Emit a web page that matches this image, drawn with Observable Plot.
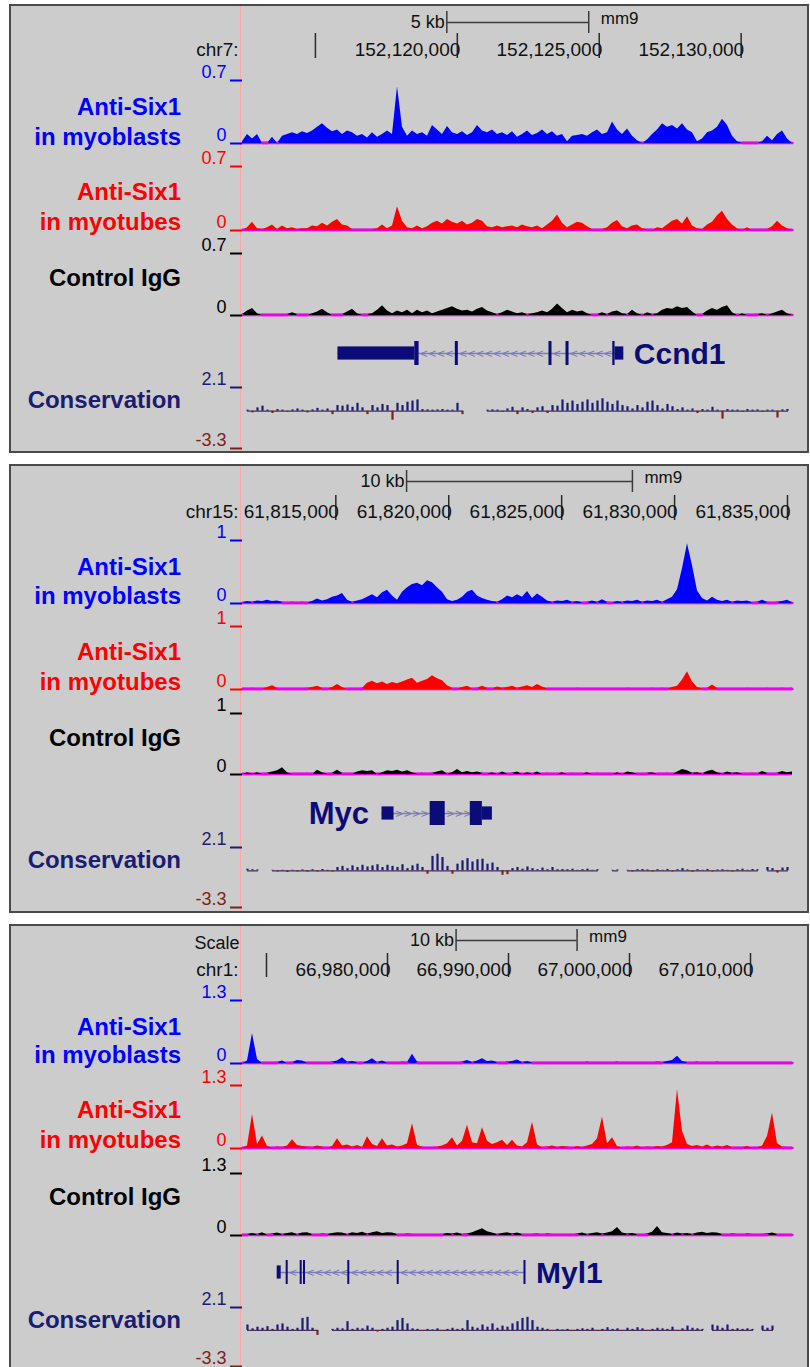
<!DOCTYPE html>
<html><head><meta charset="utf-8">
<script src="https://cdn.jsdelivr.net/npm/d3@7"></script>
<script src="https://cdn.jsdelivr.net/npm/@observablehq/plot@0.6"></script>
<style>
body{margin:0;background:#fff;}
#page{position:relative;width:810px;height:1367px;overflow:hidden;font-family:Arial,"Liberation Sans",Helvetica,sans-serif;}
.panel{position:absolute;left:9px;width:800px;box-sizing:border-box;border:2px solid #4a4a4a;background:#cccccc;}
.guide{position:absolute;left:240px;width:1px;background:#f2aaaa;}
.lab{position:absolute;left:0;width:181px;text-align:right;font-weight:bold;font-size:24px;line-height:24px;white-space:nowrap;}
</style></head><body><div id="page"></div>
<script>
// ---------------- DATA ----------------
// Panel 1 : Ccnd1
const p1Chrom = "chr7";
const p1Range = [152112431, 152131810];
const p1Ticks = [152115000, 152120000, 152125000, 152130000];
const p1TickLabels = ["", "152,120,000", "152,125,000", "152,130,000"];
const p1ScaleBar = [152119630, 152124630];
const p1ScaleLabel = "5 kb";
const p1Max = 0.7;
const p1Myoblasts = [0.02,0.1,0.05,0.1,0,0,0.07,0,0.08,0.1, 0.12,0.1,0.13,0.11,0.14,0.18,0.22,0.17,0.13,0.15, 0.1,0.14,0.12,0.08,0.1,0.06,0.12,0.07,0.1,0.14, 0.1,0.63,0.18,0.08,0.14,0.1,0.12,0.08,0.2,0.15, 0.1,0.19,0.12,0.1,0.13,0.09,0.12,0.2,0.14,0.12, 0.15,0.1,0.12,0.09,0.13,0.07,0.1,0.14,0.09,0.11, 0.15,0.1,0.13,0.08,0.1,0.02,0.08,0.09,0.1,0.08, 0.12,0.15,0.1,0.12,0.24,0.15,0.1,0.16,0.08,0.03, 0,0.04,0.1,0.15,0.22,0.18,0.2,0.16,0.22,0.15, 0.12,0.02,0.05,0.12,0.14,0.18,0.27,0.2,0.08,0.02, 0,0,0,0,0.02,0.08,0.03,0.1,0.14,0.05, 0];
const p1Myotubes = [0,0.03,0.09,0.02,0.01,0.03,0.06,0.01,0.05,0.02, 0.03,0.01,0.02,0.02,0.05,0.04,0.08,0.05,0.09,0.12, 0.06,0.05,0.01,0,0,0,0.01,0.02,0.06,0.02, 0.05,0.26,0.1,0.03,0.02,0.05,0.02,0.04,0.08,0.1, 0.07,0.12,0.09,0.07,0.1,0.06,0.08,0.12,0.1,0.04, 0.03,0.05,0.03,0.04,0.05,0.03,0.06,0.04,0.03,0.05, 0.02,0.06,0.1,0.17,0.08,0.03,0.06,0.09,0.08,0.04, 0.01,0,0.01,0.03,0.08,0.11,0.04,0.02,0.05,0.06, 0.02,0.01,0,0.03,0.02,0.06,0.1,0.12,0.07,0.15, 0.05,0.02,0.01,0.06,0.09,0.16,0.21,0.12,0.06,0.02, 0,0.03,0,0,0,0.01,0.04,0.1,0.05,0.02, 0];
const p1Control = [0.01,0.05,0.08,0.02,0,0,0,0.01,0,0.01, 0.03,0.01,0,0,0.02,0.04,0.07,0.03,0,0, 0.01,0.04,0.07,0.02,0,0.01,0.02,0.06,0.11,0.05, 0.02,0.05,0.03,0.06,0.02,0.06,0.03,0.05,0.02,0.04, 0.06,0.08,0.1,0.07,0.05,0.06,0.04,0.07,0.09,0.05, 0.03,0.01,0.03,0.06,0.04,0.02,0.03,0.01,0.02,0.03, 0.05,0.03,0.07,0.13,0.08,0.03,0.06,0.04,0.05,0.02, 0,0.01,0.03,0.01,0.04,0.05,0.02,0.01,0.06,0.02, 0,0.03,0.01,0.02,0.06,0.08,0.07,0.1,0.08,0.09, 0.04,0,0.01,0.05,0.08,0.06,0.09,0.11,0.03,0, 0.02,0,0,0.01,0.02,0,0.02,0.04,0.06,0.02, 0];
const p1Conservation = [null,0.1,-0.15,0.3,0.45,0.1,-0.2,0.15,0.1,-0.1, 0.12,0.2,0.1,-0.15,0.12,0.25,0.1,0.2,-0.3,0.5, 0.45,0.55,0.35,0.7,0.3,-0.3,0.5,0.3,0.6,0.5, -0.8,0.7,0.5,0.8,0.9,1.0,0.15,0.12,0.1,0.12, 0.15,0.1,0.1,0.7,-0.3,null,null,null,null,0.1, 0.12,0.1,-0.1,0.2,0.35,-0.3,0.3,0.15,-0.2,0.3, 0.4,-0.2,0.5,0.45,1.0,0.7,0.9,0.6,0.8,1.0, 0.7,0.9,1.1,0.8,0.6,0.9,0.5,0.4,0.2,0.5, 0.3,0.8,0.9,0.5,0.2,0.6,0.4,0.15,0.3,0.1, 0.2,-0.2,0.15,0.1,0.35,0.1,-0.7,0.15,0.1,0.1, -0.1,0.15,0.1,0.12,-0.1,0.1,0.1,-0.6,0.12,0.15, null];
const p1GeneName = "Ccnd1";
const p1Strand = "-";
const p1Exons = [[152115794,152118501,"utr"],[152118501,152118653,"cds"],[152119930,152120036,"cds"],[152123230,152123336,"cds"],[152123830,152123936,"cds"],[152125478,152125559,"cds"],[152125559,152125866,"utr"]];

// Panel 2 : Myc
const p2Chrom = "chr15";
const p2Range = [61810867, 61835222];
const p2Ticks = [61815000, 61820000, 61825000, 61830000, 61835000];
const p2TickLabels = ["61,815,000", "61,820,000", "61,825,000", "61,830,000", "61,835,000"];
const p2ScaleBar = [61818133, 61828133];
const p2ScaleLabel = "10 kb";
const p2Max = 1;
const p2Myoblasts = [0.01,0.03,0.02,0.04,0.03,0.05,0.03,0.04,0.02,0.01, 0.02,0.01,0.02,0.01,0.03,0.07,0.04,0.06,0.1,0.12, 0.16,0.05,0.02,0.04,0.06,0.1,0.14,0.09,0.17,0.21, 0.12,0.05,0.18,0.25,0.3,0.32,0.28,0.36,0.33,0.25, 0.18,0.06,0.03,0.05,0.1,0.18,0.21,0.12,0.08,0.05, 0.03,0.02,0.06,0.12,0.09,0.14,0.1,0.19,0.08,0.15, 0.1,0.04,0.02,0.04,0.03,0.05,0.02,0.03,0.01,0.02, 0.04,0.02,0.06,0.02,0.01,0.03,0.02,0.04,0.03,0.05, 0.02,0.04,0.03,0.05,0.02,0.06,0.1,0.22,0.55,0.95, 0.6,0.2,0.08,0.04,0.1,0.05,0.03,0.05,0.02,0.04, 0.03,0.04,0.01,0.02,0.05,0.02,0.01,0.02,0.03,0.05, 0.01];
const p2Myotubes = [0,0.01,0.02,0.01,0.01,0.03,0.06,0.02,0.01,0, 0.01,0,0.01,0.02,0.03,0.05,0.02,0.01,0.03,0.08, 0.03,0,0,0.01,0.02,0.1,0.13,0.09,0.12,0.08, 0.11,0.09,0.12,0.15,0.18,0.1,0.13,0.16,0.22,0.17, 0.14,0.06,0.02,0.01,0.03,0.05,0.01,0.02,0.05,0.02, 0.01,0.04,0.02,0.03,0.05,0.02,0.04,0.06,0.03,0.08, 0.04,0.01,0,0,0.01,0,0,0.02,0.01,0, 0.02,0,0.01,0,0,0.01,0,0.02,0.01,0, 0.01,0,0.02,0.01,0.02,0.01,0.03,0.05,0.15,0.28, 0.12,0.03,0.01,0.02,0.07,0.02,0,0.01,0,0.01, 0,0.02,0,0.01,0,0.02,0,0.01,0.02,0.01, 0.02];
const p2Control = [0,0.03,0.01,0.03,0,0.02,0.04,0.06,0.11,0.03, 0,0.01,0,0.02,0,0.07,0.03,0.01,0.02,0.07, 0.02,0,0.01,0.04,0.06,0.05,0.06,0,0.03,0.06, 0.05,0.07,0.04,0.06,0.03,0.01,0.02,0,0.02,0.04, 0.06,0.01,0.03,0.08,0.03,0.05,0.03,0.04,0.02,0.01, 0.03,0,0.04,0.01,0.02,0.04,0,0.03,0.01,0.04, 0,0.02,0,0.01,0.03,0,0.02,0,0.01,0.03, 0,0.02,0,0.01,0,0.03,0,0.04,0.03,0.01, 0,0.02,0.03,0,0.01,0.02,0,0.04,0.08,0.06, 0.02,0.03,0.01,0.05,0.07,0.03,0.01,0.04,0.02,0.03, 0.01,0,0.02,0.01,0.05,0.02,0,0.02,0.05,0.03, 0.04];
const p2Conservation = [null,0.15,0.1,0.08,null,null,0.05,-0.1,0.05,-0.15, 0.05,-0.1,0.08,-0.12,0.1,-0.1,0.12,0.05,-0.1,0.3, 0.4,0.2,0.45,0.3,0.5,0.35,0.45,0.55,0.3,0.5, 0.4,0.3,0.55,0.2,0.45,0.6,0.3,-0.3,1.3,1.5, 1.2,0.4,-0.3,0.6,0.9,1.1,0.8,1.0,1.05,0.6, 0.7,0.3,-0.4,-0.35,0.2,0.3,0.15,0.35,0.2,0.1, 0.25,0.1,0.3,0.1,0.12,0.1,0.15,0.05,0.1,0.15, 0.05,0.1,null,null,0.05,0.08,null,0.05,-0.1,0.1, 0.12,0.08,-0.1,0.1,0.05,0.12,-0.1,0.1,0.2,0.08, -0.12,0.1,0.05,0.12,-0.1,0.08,0.1,0.05,-0.1,0.1, 0.15,0.05,0.12,0.1,null,0.3,0.2,-0.2,0.25,0.3, null];
const p2GeneName = "Myc";
const p2Strand = "+";
const p2Exons = [[61817044,61817578,"utr"],[61819178,61819844,"cds"],[61820955,61821489,"cds"],[61821489,61821933,"utr"]];

// Panel 3 : Myl1
const p3Chrom = "chr1";
const p3Range = [66968017, 67013471];
const p3Ticks = [66970000, 66980000, 66990000, 67000000, 67010000];
const p3TickLabels = ["", "66,980,000", "66,990,000", "67,000,000", "67,010,000"];
const p3ScaleBar = [66985669, 66995669];
const p3ScaleLabel = "10 kb";
const p3Max = 1.3;
const p3Myoblasts = [0,0.05,0.62,0.08,0,0,0,0.02,0.05,0, 0.02,0.06,0.05,0.01,0,0.02,0,0.01,0.03,0.05, 0.12,0.03,0.04,0.02,0.01,0.04,0.1,0.02,0.05,0.01, 0.02,0,0.03,0.02,0.19,0.03,0.01,0,0.02,0, 0.01,0,0.02,0.01,0.03,0.06,0.02,0.05,0.1,0.04, 0.05,0.02,0.01,0.03,0.04,0.07,0.02,0.04,0.01,0, 0.02,0.01,0,0.02,0.01,0,0.02,0,0.01,0.03, 0,0.01,0.02,0,0.01,0.03,0,0.01,0.02,0.01, 0,0.02,0.01,0.03,0.02,0.04,0.06,0.15,0.04,0.02, 0.01,0.03,0,0.02,0.01,0.03,0,0.01,0.02,0, 0.01,0.02,0,0.01,0,0.02,0,0.01,0.02,0.01, 0];
const p3Myotubes = [0.01,0.05,0.7,0.08,0.26,0.04,0.01,0.03,0.02,0.05, 0.18,0.06,0.04,0.03,0.02,0.05,0.03,0.01,0.04,0.2, 0.05,0.07,0.03,0.06,0.02,0.24,0.08,0.04,0.2,0.05, 0.07,0.03,0.05,0.1,0.51,0.06,0.03,0.01,0.02,0.03, 0.05,0.1,0.22,0.05,0.15,0.48,0.12,0.1,0.43,0.15, 0.08,0.12,0.17,0.06,0.17,0.05,0.03,0.12,0.54,0.07, 0.02,0.03,0.05,0.02,0.04,0.03,0.01,0.04,0.02,0.05, 0.08,0.2,0.65,0.1,0.22,0.04,0.01,0.03,0.02,0.05, 0.01,0.03,0.02,0.04,0.03,0.06,0.12,1.22,0.35,0.08, 0.04,0.06,0.03,0.07,0.02,0.05,0.03,0.06,0.02,0.01, 0.02,0.04,0.01,0.02,0.05,0.25,0.73,0.1,0.03,0.02, 0.01];
const p3Control = [0,0.02,0.04,0.02,0.06,0.01,0.03,0.05,0.02,0.04, 0.06,0.02,0.05,0.06,0.02,0.01,0.03,0.02,0.04,0.06, 0.05,0.02,0.06,0.04,0.07,0.03,0.06,0.08,0.04,0.06, 0.05,0.02,0.01,0.03,0.02,0,0.01,0.02,0.01,0, 0.02,0.04,0.03,0.05,0.02,0.03,0.06,0.1,0.14,0.08, 0.05,0.02,0.04,0.06,0.03,0.05,0.02,0.01,0.02,0.03, 0.01,0.03,0.02,0,0.01,0.02,0.01,0.03,0.05,0.02, 0.04,0.06,0.03,0.05,0.08,0.17,0.05,0.03,0.04,0.02, 0.01,0.03,0.07,0.19,0.06,0.04,0.02,0.05,0.03,0.04, 0.02,0.05,0.07,0.04,0.06,0.05,0.02,0.01,0.03,0.02, 0.01,0.03,0.02,0.01,0.02,0.03,0.05,0.02,0.01,0.02, 0.01];
const p3Conservation = [null,0.5,0.15,0.3,0.2,0.35,0.1,0.5,0.6,0.3, 0.1,0.2,1.1,1.2,0.2,-0.45,null,null,0.1,0.2, 0.15,0.8,0.1,0.2,0.15,0.4,0.2,-0.15,0.1,0.2, 0.3,0.9,1.1,0.6,0.15,0.1,-0.1,0.1,0.05,0.15, -0.1,0.1,0.2,0.1,0.15,0.9,0.3,0.2,0.5,0.3, 0.6,0.2,0.4,0.3,0.6,0.8,1.1,1.2,0.9,0.3, 0.2,0.1,-0.1,0.1,0.05,0.1,-0.1,0.1,0.15,0.1, 0.2,-0.1,0.1,0.25,0.1,0.15,-0.1,0.2,0.1,0.25, 0.15,-0.1,0.1,0.2,0.15,0.1,0.3,-0.1,0.15,0.4, 0.2,0.15,0.1,null,0.5,0.4,0.2,0.5,0.1,0.15, 0.1,0.15,0.1,null,0.4,0.2,0.4,null,null,null, null];
const p3GeneName = "Myl1";
const p3Strand = "-";
const p3Exons = [[66970885,66971215,"utr"],[66971628,66971794,"cds"],[66972786,66972951,"cds"],[66973059,66973224,"cds"],[66976720,66976885,"cds"],[66980802,66980967,"cds"],[66991280,66991445,"cds"]];

const trackNames = [["Anti-Six1", "in myoblasts"], ["Anti-Six1", "in myotubes"], ["Control IgG"], ["Conservation"]];
const trackColors = ["#0000ff", "#ff0000", "#000000", "#1c1c72"];
const consRange = [-3.3, 2.1];

// ---------------- LAYOUT / DRAWING ----------------
const FONT = 'Arial, "Liberation Sans", Helvetica, sans-serif';
const page = document.getElementById("page");
const W = 810, ML = 242, MR = 18;
const MAGENTA = "#ee00ee", GENE = "rgb(12,12,120)", INTRON = "#7c7cb8", NEG = "#7a2418";
const baseStyle = {background: "transparent", overflow: "visible", fontFamily: FONT};

function mount(node, top) {
  node.style.position = "absolute"; node.style.left = "0px"; node.style.top = top + "px";
  page.appendChild(node);
}
function div(cls, css, text) {
  const d = document.createElement("div"); d.className = cls;
  Object.assign(d.style, css); if (text != null) d.textContent = text; page.appendChild(d); return d;
}
function label(text, centerY, color) {
  div("lab", {top: (centerY - 12) + "px", color}, text);
}

function scaleRow(range, bar, barLabel, withScale, top, bottom) {
  const marks = [
    Plot.ruleY([0], {x1: bar[0], x2: bar[1], stroke: "#3a3a3a", strokeWidth: 1.5}),
    Plot.ruleX(bar, {stroke: "#3a3a3a", strokeWidth: 1.5}),
    Plot.text([bar[0]], {x: d => d, text: () => barLabel, textAnchor: "end", dx: -2, fontSize: 18, fill: "#111"}),
    Plot.text([bar[1]], {x: d => d, text: () => "mm9", textAnchor: "start", dx: 12, dy: -4, fontSize: 17, fill: "#111"})
  ];
  if (withScale) marks.push(Plot.text(["Scale"], {text: d => d, frameAnchor: "left", textAnchor: "end", dx: -3, dy: 3, fontSize: 18, fill: "#111"}));
  mount(Plot.plot({width: W, height: bottom - top, marginLeft: ML, marginRight: MR, marginTop: 0, marginBottom: 0,
    x: {domain: range, axis: null}, y: {domain: [-1, 1], axis: null}, style: baseStyle, marks}), top);
}

function tickRow(range, ticks, labels, chrom, top, bottom) {
  mount(Plot.plot({width: W, height: bottom - top, marginLeft: ML, marginRight: MR, marginTop: 0, marginBottom: 0,
    x: {domain: range, axis: null}, style: baseStyle,
    marks: [
      Plot.ruleX(ticks, {stroke: "#2a2a2a", strokeWidth: 1.5}),
      Plot.text(ticks, {x: d => d, text: (d, i) => labels[i], textAnchor: "end", dx: 3, dy: 4, fontSize: 19, fill: "#111"}),
      Plot.text([chrom + ":"], {text: d => d, frameAnchor: "left", textAnchor: "end", dx: -4, dy: 4, fontSize: 19, fill: "#111"})
    ]}), top);
}

function signalTrack(range, values, ymax, color, topPx, zeroPx) {
  const step = (range[1] - range[0]) / (values.length - 1);
  const data = values.map((v, i) => ({x: range[0] + i * step, v}));
  const low = ymax * 0.025;
  const mt = 16, mb = 4;
  mount(Plot.plot({width: W, height: zeroPx - topPx + mt + mb, marginLeft: ML, marginRight: MR, marginTop: mt, marginBottom: mb,
    x: {domain: range, axis: null}, y: {domain: [0, ymax], axis: null}, style: baseStyle,
    marks: [
      Plot.ruleY([0], {stroke: MAGENTA, strokeWidth: 2.6, dy: -0.6}),
      Plot.areaY(data, {x: "x", y: "v", fill: color}),
      Plot.lineY(data, {x: "x", y: d => d.v <= low ? 0 : NaN, stroke: MAGENTA, strokeWidth: 2.4, dy: -0.5}),
      Plot.axisY([0, ymax], {tickSize: 12, stroke: color, strokeWidth: 2, fill: "none", label: null}),
      Plot.text([0, ymax], {y: d => d, text: d => String(d), frameAnchor: "left", textAnchor: "end", dx: -16, dy: -8, fill: color, fontSize: 18})
    ]}), topPx - mt);
}

function consTrack(range, values, topPx, botPx) {
  const step = (range[1] - range[0]) / (values.length - 1);
  const data = values.map((v, i) => ({x: range[0] + i * step, v}));
  const pos = data.filter(d => d.v != null && d.v >= 0), neg = data.filter(d => d.v != null && d.v < 0);
  const mt = 16, mb = 4;
  mount(Plot.plot({width: W, height: botPx - topPx + mt + mb, marginLeft: ML, marginRight: MR, marginTop: mt, marginBottom: mb,
    x: {domain: range, axis: null}, y: {domain: consRange, axis: null}, style: baseStyle,
    marks: [
      Plot.lineY(data, {x: "x", y: d => d.v == null ? NaN : 0, stroke: "#4a2c5c", strokeWidth: 1.2}),
      Plot.ruleX(pos, {x: "x", y1: 0, y2: "v", stroke: trackColors[3], strokeWidth: 2.2}),
      Plot.ruleX(neg, {x: "x", y1: 0, y2: "v", stroke: NEG, strokeWidth: 2.2}),
      Plot.axisY([consRange[1]], {tickSize: 12, stroke: trackColors[3], strokeWidth: 2, fill: "none", label: null}),
      Plot.axisY([consRange[0]], {tickSize: 12, stroke: NEG, strokeWidth: 2, fill: "none", label: null}),
      Plot.text([consRange[1]], {y: d => d, text: d => String(d), frameAnchor: "left", textAnchor: "end", dx: -16, dy: -8, fill: trackColors[3], fontSize: 18}),
      Plot.text([consRange[0]], {y: d => d, text: d => String(d), frameAnchor: "left", textAnchor: "end", dx: -16, dy: -8, fill: NEG, fontSize: 18})
    ]}), topPx - mt);
}

function geneTrack(range, exons, strand, name, centerPx, labelSide) {
  const blocks = exons.map(([s, e, t]) => ({s, e, t}));
  const txStart = d3.min(blocks, d => d.s), txEnd = d3.max(blocks, d => d.e);
  const bpPx = (range[1] - range[0]) / (W - ML - MR);
  const chev = [];
  for (let i = 0; i < blocks.length - 1; i++) {
    const a = blocks[i].e, b = blocks[i + 1].s;
    for (let x = a + 5 * bpPx; x < b - 3 * bpPx; x += 8.5 * bpPx) chev.push(x);
  }
  const h = 34, half = h / 2;
  mount(Plot.plot({width: W, height: h, marginLeft: ML, marginRight: MR, marginTop: 5, marginBottom: 5,
    x: {domain: range, axis: null}, y: {domain: [-1, 1], axis: null}, style: baseStyle,
    marks: [
      Plot.ruleY([0], {x1: txStart, x2: txEnd, stroke: INTRON, strokeWidth: 1.3}),
      Plot.text(chev, {x: d => d, y: 0, text: () => strand === "-" ? "<" : ">", fontSize: 13, fill: INTRON}),
      Plot.rect(blocks, {x1: "s", x2: "e", y1: d => d.t === "cds" ? -1 : -0.55, y2: d => d.t === "cds" ? 1 : 0.55, fill: GENE}),
      labelSide === "right"
        ? Plot.text([txEnd], {x: d => d, text: () => name, textAnchor: "start", dx: 10, dy: 1, fontSize: 30, fontWeight: "bold", fill: GENE})
        : Plot.text([txStart], {x: d => d, text: () => name, textAnchor: "end", dx: -13, dy: 1, fontSize: 31, fontWeight: "bold", fill: GENE})
    ]}), centerPx - half);
}

function panel(cfg) {
  div("panel", {top: cfg.top + "px", height: cfg.height + "px"});
  div("guide", {top: (cfg.top + 2) + "px", height: (cfg.height - 4) + "px"});
  scaleRow(cfg.range, cfg.bar, cfg.barLabel, cfg.withScale, cfg.barRow[0], cfg.barRow[1]);
  tickRow(cfg.range, cfg.ticks, cfg.tickLabels, cfg.chrom, cfg.tickRow[0], cfg.tickRow[1]);
  const series = [cfg.myoblasts, cfg.myotubes, cfg.control];
  series.forEach((vals, k) => signalTrack(cfg.range, vals, cfg.max, trackColors[k], cfg.tracks[k][0], cfg.tracks[k][1]));
  consTrack(cfg.range, cfg.cons, cfg.tracks[3][0], cfg.tracks[3][1]);
  geneTrack(cfg.range, cfg.exons, cfg.strand, cfg.gene, cfg.geneY, cfg.geneSide);
  trackNames.forEach((lines, k) => lines.forEach((t, j) => label(t, cfg.labelY[k][j], trackColors[k])));
}

panel({top: 4, height: 449, range: p1Range, bar: p1ScaleBar, barLabel: p1ScaleLabel, withScale: false,
  barRow: [11, 33], tickRow: [33, 58], ticks: p1Ticks, tickLabels: p1TickLabels, chrom: p1Chrom,
  myoblasts: p1Myoblasts, myotubes: p1Myotubes, control: p1Control, cons: p1Conservation, max: p1Max,
  tracks: [[80, 143], [166, 230], [253, 315], [387, 448]],
  exons: p1Exons, strand: p1Strand, gene: p1GeneName, geneY: 353, geneSide: "right",
  labelY: [[107, 137], [192, 222], [278], [400]]});

panel({top: 464, height: 449, range: p2Range, bar: p2ScaleBar, barLabel: p2ScaleLabel, withScale: false,
  barRow: [470, 492], tickRow: [495, 520], ticks: p2Ticks, tickLabels: p2TickLabels, chrom: p2Chrom,
  myoblasts: p2Myoblasts, myotubes: p2Myotubes, control: p2Control, cons: p2Conservation, max: p2Max,
  tracks: [[540, 603], [626, 689], [713, 774], [847, 907]],
  exons: p2Exons, strand: p2Strand, gene: p2GeneName, geneY: 813, geneSide: "left",
  labelY: [[567, 596], [652, 682], [738], [860]]});

panel({top: 924, height: 470, range: p3Range, bar: p3ScaleBar, barLabel: p3ScaleLabel, withScale: true,
  barRow: [929, 951], tickRow: [953, 977], ticks: p3Ticks, tickLabels: p3TickLabels, chrom: p3Chrom,
  myoblasts: p3Myoblasts, myotubes: p3Myotubes, control: p3Control, cons: p3Conservation, max: p3Max,
  tracks: [[1000, 1063], [1085, 1148], [1173, 1235], [1307, 1366]],
  exons: p3Exons, strand: p3Strand, gene: p3GeneName, geneY: 1272, geneSide: "right",
  labelY: [[1027, 1055], [1110, 1140], [1197], [1320]]});
</script></body></html>
